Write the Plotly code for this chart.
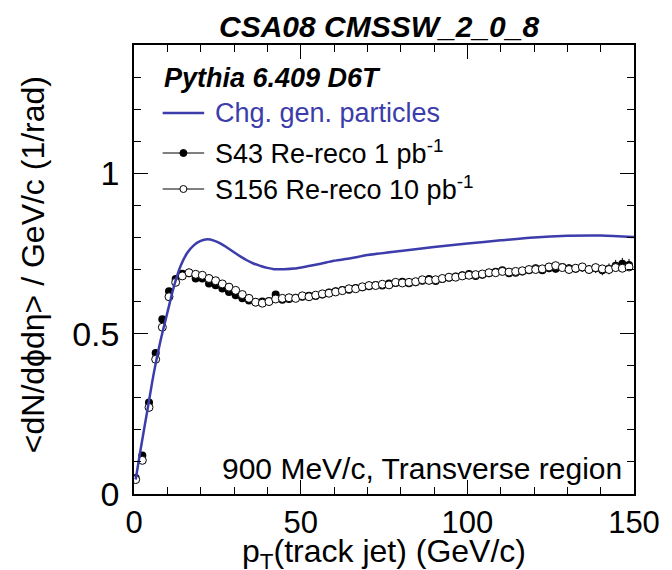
import plotly.graph_objects as go

# ---------------- data ----------------
pt_bins = [0.5 + 2 * i for i in range(75)]

s43_vals = [0.050, 0.120, 0.285, 0.440, 0.545, 0.632, 0.670, 0.687, 0.688, 0.672,
            0.672, 0.656, 0.651, 0.641, 0.630, 0.620, 0.610, 0.603, 0.598, 0.600,
            0.602, 0.622, 0.606, 0.608, 0.612, 0.615, 0.618, 0.617, 0.622, 0.628,
            0.632, 0.636, 0.637, 0.642, 0.645, 0.648, 0.652, 0.650, 0.656, 0.658,
            0.662, 0.657, 0.660, 0.665, 0.670, 0.664, 0.670, 0.674, 0.678, 0.682,
            0.686, 0.680, 0.684, 0.688, 0.693, 0.698, 0.688, 0.690, 0.694, 0.698,
            0.704, 0.698, 0.704, 0.702, 0.708, 0.704, 0.702, 0.706, 0.700, 0.704,
            0.698, 0.702, 0.712, 0.718, 0.714]

s156_vals = [0.045, 0.105, 0.270, 0.420, 0.520, 0.615, 0.660, 0.680, 0.690, 0.685,
             0.682, 0.672, 0.665, 0.655, 0.645, 0.635, 0.622, 0.610, 0.598, 0.595,
             0.600, 0.608, 0.610, 0.612, 0.610, 0.618, 0.615, 0.620, 0.624, 0.626,
             0.630, 0.634, 0.640, 0.640, 0.646, 0.650, 0.650, 0.654, 0.652, 0.660,
             0.658, 0.660, 0.662, 0.668, 0.666, 0.668, 0.672, 0.676, 0.676, 0.680,
             0.682, 0.684, 0.686, 0.690, 0.690, 0.694, 0.692, 0.694, 0.696, 0.700,
             0.700, 0.702, 0.708, 0.712, 0.706, 0.700, 0.704, 0.708, 0.700, 0.706,
             0.702, 0.700, 0.706, 0.704, 0.708]

s43_err = [0.002, 0.002, 0.003, 0.003, 0.003, 0.003, 0.003, 0.003, 0.003, 0.003,
           0.003, 0.003, 0.003, 0.003, 0.003, 0.003, 0.003, 0.003, 0.003, 0.003,
           0.004, 0.004, 0.004, 0.004, 0.004, 0.004, 0.004, 0.004, 0.004, 0.004,
           0.005, 0.005, 0.005, 0.005, 0.005, 0.005, 0.005, 0.005, 0.005, 0.005,
           0.006, 0.006, 0.006, 0.006, 0.006, 0.006, 0.006, 0.007, 0.007, 0.007,
           0.008, 0.008, 0.008, 0.008, 0.009, 0.009, 0.009, 0.010, 0.010, 0.010,
           0.011, 0.011, 0.012, 0.012, 0.012, 0.013, 0.013, 0.014, 0.014, 0.015,
           0.016, 0.017, 0.018, 0.018, 0.019]

s156_err = [0.001, 0.001, 0.001, 0.001, 0.001, 0.001, 0.001, 0.001, 0.001, 0.001,
            0.001, 0.001, 0.001, 0.001, 0.001, 0.001, 0.001, 0.001, 0.001, 0.001,
            0.002, 0.002, 0.002, 0.002, 0.002, 0.002, 0.002, 0.002, 0.002, 0.002,
            0.002, 0.002, 0.002, 0.002, 0.002, 0.002, 0.002, 0.002, 0.002, 0.002,
            0.002, 0.002, 0.002, 0.002, 0.002, 0.003, 0.003, 0.003, 0.003, 0.003,
            0.003, 0.003, 0.003, 0.003, 0.003, 0.003, 0.003, 0.004, 0.004, 0.004,
            0.004, 0.004, 0.004, 0.004, 0.005, 0.005, 0.005, 0.005, 0.005, 0.005,
            0.006, 0.006, 0.006, 0.006, 0.006]

gen_pt = [0.5, 2, 4, 6, 8, 10, 12, 14, 16, 18, 20, 22, 24, 26, 28, 30, 32, 34, 36,
          38, 40, 42, 45, 48, 52, 56, 60, 65, 70, 80, 90, 100, 110, 120, 130, 140, 150]
gen_vals = [0.045, 0.140, 0.260, 0.380, 0.480, 0.565, 0.648, 0.712, 0.752, 0.776,
            0.789, 0.794, 0.790, 0.781, 0.768, 0.754, 0.740, 0.728, 0.718, 0.711,
            0.705, 0.701, 0.701, 0.703, 0.710, 0.718, 0.727, 0.735, 0.745, 0.758,
            0.770, 0.781, 0.791, 0.800, 0.805, 0.806, 0.801]

title_text = "<b><i>CSA08 CMSSW_2_0_8</i></b>"
label_gen = "Chg. gen. particles"
label_s43 = "S43 Re-reco 1 pb<sup>-1</sup>"
label_s156 = "S156 Re-reco 10 pb<sup>-1</sup>"
header_text = "<b><i>Pythia 6.409 D6T</i></b>"
region_text = "900 MeV/c, Transverse region"
x_title = "p<sub>T</sub>(track jet) (GeV/c)"
y_title = "<dN/d\u03d5d\u03b7> / GeV/c (1/rad)"

BLUE = "#3c3cab"
FONT = "Liberation Sans"

fig = go.Figure()

fig.add_trace(go.Scatter(
    x=pt_bins, y=s43_vals, mode="markers",
    marker=dict(symbol="circle", size=8, color="black", line=dict(width=0)),
    error_y=dict(type="data", array=s43_err, color="black", thickness=1, width=0),
    error_x=dict(type="constant", value=1.0, color="black", thickness=1, width=0),
    showlegend=False, hoverinfo="skip"))

fig.add_trace(go.Scatter(
    x=pt_bins, y=s156_vals, mode="markers",
    marker=dict(symbol="circle", size=8, color="white", line=dict(width=1, color="black")),
    error_y=dict(type="data", array=s156_err, color="black", thickness=1, width=0),
    error_x=dict(type="constant", value=1.0, color="black", thickness=1, width=0),
    showlegend=False, hoverinfo="skip"))

fig.add_trace(go.Scatter(
    x=gen_pt, y=gen_vals, mode="lines",
    line=dict(color=BLUE, width=2.5, shape="spline", smoothing=0.8),
    showlegend=False, hoverinfo="skip"))

# plot area geometry (px) for annotation placement
L, R, T, B = 134, 640, 45, 494
W, H = R - L, B - T

def px(xp):
    return (xp - L) / W

def py(yp):
    return (B - yp) / H

annotations = [
    dict(text=title_text, x=px(382), y=py(26), xref="paper", yref="paper",
         xanchor="center", yanchor="middle", showarrow=False,
         font=dict(family=FONT, size=30, color="black")),
    dict(text=header_text, x=px(162), y=py(78), xref="paper", yref="paper",
         xanchor="left", yanchor="middle", showarrow=False,
         font=dict(family=FONT, size=27, color="black")),
    dict(text=label_gen, x=px(214), y=py(113), xref="paper", yref="paper",
         xanchor="left", yanchor="middle", showarrow=False,
         font=dict(family=FONT, size=27, color=BLUE)),
    dict(text=label_s43, x=px(214), y=py(152), xref="paper", yref="paper",
         xanchor="left", yanchor="middle", showarrow=False,
         font=dict(family=FONT, size=27, color="black")),
    dict(text=label_s156, x=px(214), y=py(188), xref="paper", yref="paper",
         xanchor="left", yanchor="middle", showarrow=False,
         font=dict(family=FONT, size=27, color="black")),
    dict(text=region_text, x=px(630), y=py(468), xref="paper", yref="paper",
         xanchor="right", yanchor="middle", showarrow=False,
         font=dict(family=FONT, size=30, color="black")),
    dict(text=x_title, x=px(387), y=py(553), xref="paper", yref="paper",
         xanchor="center", yanchor="middle", showarrow=False,
         font=dict(family=FONT, size=32, color="black")),
    dict(text=y_title, x=px(32), y=py(265), xref="paper", yref="paper",
         xanchor="center", yanchor="middle", showarrow=False, textangle=-90,
         font=dict(family=FONT, size=32, color="black")),
]

shapes = [
    # legend glyph lines
    dict(type="line", xref="paper", yref="paper", x0=px(163), x1=px(205),
         y0=py(113), y1=py(113), line=dict(color=BLUE, width=2.5)),
    dict(type="line", xref="paper", yref="paper", x0=px(163), x1=px(205),
         y0=py(153), y1=py(153), line=dict(color="black", width=1)),
    dict(type="line", xref="paper", yref="paper", x0=px(163), x1=px(205),
         y0=py(189), y1=py(189), line=dict(color="black", width=1)),
    dict(type="circle", xref="paper", yref="paper", xsizemode="pixel", ysizemode="pixel",
         xanchor=px(184), yanchor=py(153), x0=-3.5, x1=3.5, y0=-3.5, y1=3.5,
         fillcolor="black", line=dict(color="black", width=1)),
    dict(type="circle", xref="paper", yref="paper", xsizemode="pixel", ysizemode="pixel",
         xanchor=px(184), yanchor=py(189), x0=-3.5, x1=3.5, y0=-3.5, y1=3.5,
         fillcolor="white", line=dict(color="black", width=1)),
]

fig.update_layout(
    width=672, height=570,
    margin=dict(l=L, r=672 - R, t=T, b=570 - B),
    paper_bgcolor="white", plot_bgcolor="white",
    font=dict(family=FONT, color="black"),
    annotations=annotations, shapes=shapes,
    showlegend=False,
)

fig.update_xaxes(
    range=[0, 150], showgrid=False, zeroline=False,
    showline=True, linecolor="black", linewidth=1.5, mirror="allticks",
    ticks="inside", ticklen=14, tickwidth=1, tickcolor="black",
    tickvals=[0, 50, 100, 150], ticktext=["0", "50", "100", "150"],
    tickfont=dict(family=FONT, size=31, color="black"),
    ticklabelstandoff=0,
    minor=dict(ticks="inside", dtick=10, ticklen=7, tickwidth=1, tickcolor="black", showgrid=False),
)
fig.update_yaxes(
    range=[0, 1.4], showgrid=False, zeroline=False,
    showline=True, linecolor="black", linewidth=1.5, mirror="allticks",
    ticks="inside", ticklen=14, tickwidth=1, tickcolor="black",
    tickvals=[0, 0.5, 1], ticktext=["0", "0.5", "1"],
    tickfont=dict(family=FONT, size=34, color="black"),
    ticklabelstandoff=6,
    minor=dict(ticks="inside", dtick=0.1, ticklen=7, tickwidth=1, tickcolor="black", showgrid=False),
)

fig.write_html("out.html")
